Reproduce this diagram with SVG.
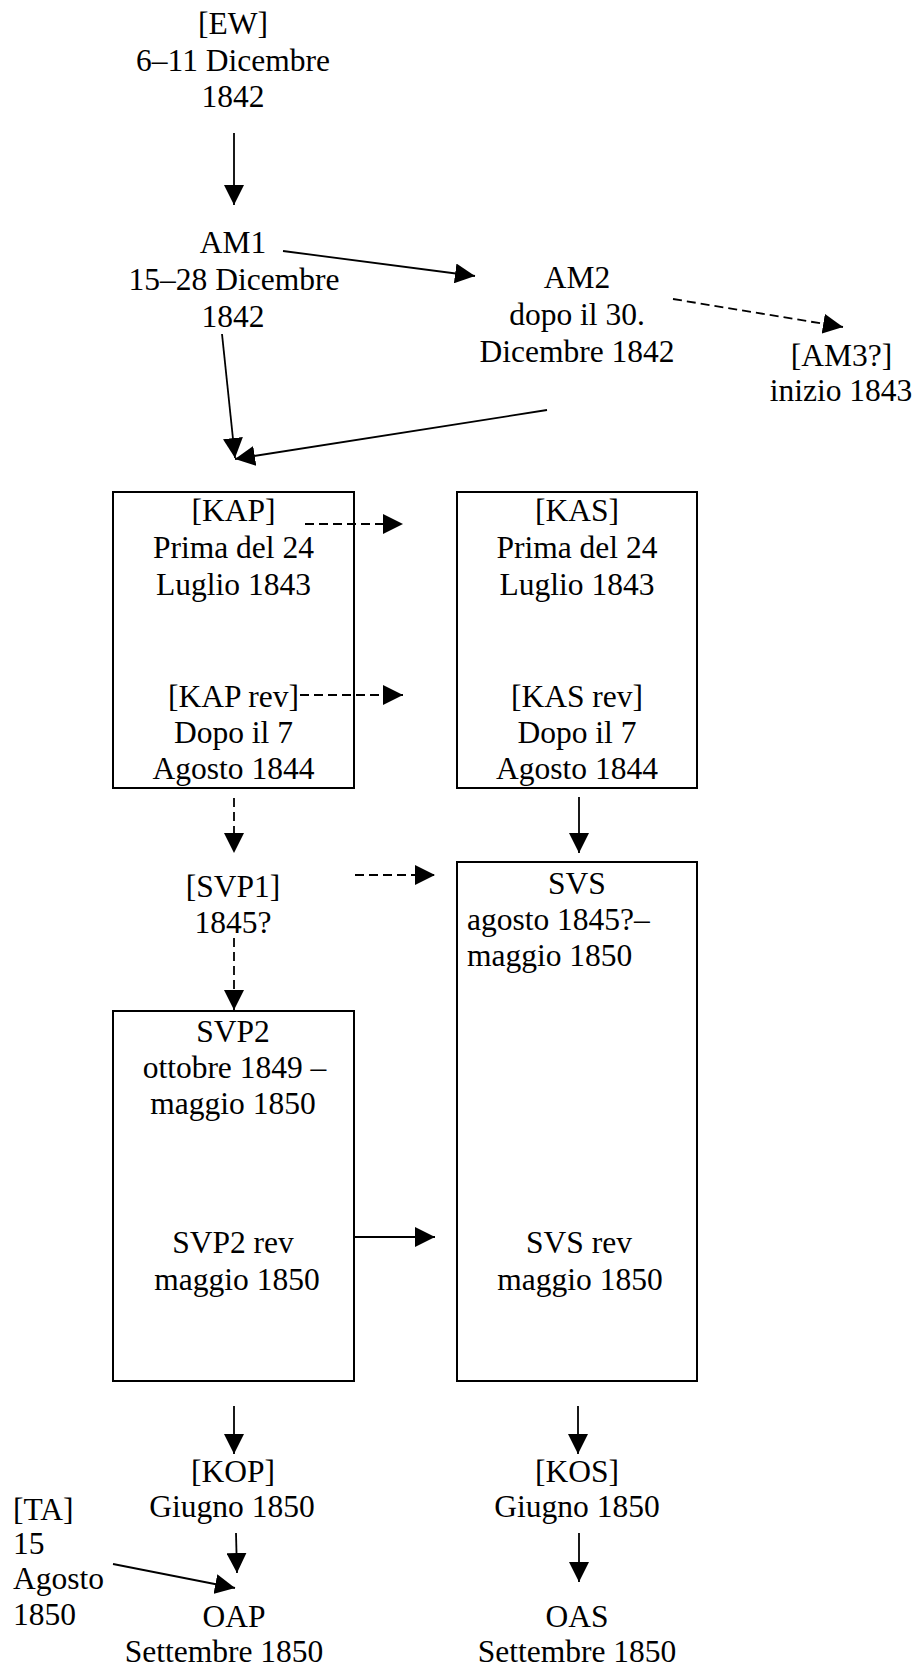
<svg xmlns="http://www.w3.org/2000/svg" width="923" height="1674" viewBox="0 0 923 1674" font-family="'Liberation Serif', Tinos, 'Times New Roman', Times, 'DejaVu Serif', serif" font-size="31.5">
<style>
.c{text-anchor:middle}
.box{fill:none;stroke:#000;stroke-width:2}
.ln{fill:none;stroke:#000;stroke-width:1.8}
.d{stroke-dasharray:9 5}
</style>
<defs>
<marker id="ah" markerUnits="userSpaceOnUse" markerWidth="20" markerHeight="20" refX="20" refY="10" orient="auto">
<path d="M0,0 L20,10 L0,20 Z" fill="#000"/>
</marker>
</defs>
<rect width="923" height="1674" fill="#fff"/>
<g id="EW" class="c"><text x="233" y="34">[EW]</text><text x="233" y="70.5">6–11 Dicembre</text><text x="233" y="107">1842</text></g>
<g id="AM1" class="c"><text x="233" y="253">AM1</text><text x="234" y="290">15–28 Dicembre</text><text x="233" y="327">1842</text></g>
<g id="AM2" class="c"><text x="577" y="288">AM2</text><text x="577" y="325">dopo il 30.</text><text x="577" y="362">Dicembre 1842</text></g>
<g id="AM3" class="c"><text x="841.5" y="366">[AM3?]</text><text x="841" y="401">inizio 1843</text></g>
<g id="KAP"><rect class="box" x="113" y="492" width="241" height="296"/>
<g class="c"><text x="233.5" y="521">[KAP]</text><text x="233.5" y="558">Prima del 24</text><text x="233.5" y="595">Luglio 1843</text><text x="233.5" y="707">[KAP rev]</text><text x="233.5" y="743">Dopo il 7</text><text x="233.5" y="779">Agosto 1844</text></g></g>
<g id="KAS"><rect class="box" x="457" y="492" width="240" height="296"/>
<g class="c"><text x="577" y="521">[KAS]</text><text x="577" y="558">Prima del 24</text><text x="577" y="595">Luglio 1843</text><text x="577" y="707">[KAS rev]</text><text x="577" y="743">Dopo il 7</text><text x="577" y="779">Agosto 1844</text></g></g>
<g id="SVP1" class="c"><text x="233" y="897">[SVP1]</text><text x="233" y="933">1845?</text></g>
<g id="SVS"><rect class="box" x="457" y="862" width="240" height="519"/>
<text class="c" x="577" y="894">SVS</text><text x="467" y="930">agosto 1845?–</text><text x="467" y="966">maggio 1850</text>
<text class="c" x="579" y="1253">SVS rev</text><text class="c" x="580" y="1290">maggio 1850</text></g>
<g id="SVP2"><rect class="box" x="113" y="1011" width="241" height="370"/>
<g class="c"><text x="233" y="1042">SVP2</text><text x="234.5" y="1078">ottobre 1849 –</text><text x="233" y="1114">maggio 1850</text><text x="233" y="1253">SVP2 rev</text><text x="237" y="1290">maggio 1850</text></g></g>
<g id="KOP" class="c"><text x="233" y="1482">[KOP]</text><text x="232" y="1517">Giugno 1850</text></g>
<g id="KOS" class="c"><text x="577" y="1482">[KOS]</text><text x="577" y="1517">Giugno 1850</text></g>
<g id="TA"><text x="13" y="1520">[TA]</text><text x="13" y="1554">15</text><text x="13" y="1589">Agosto</text><text x="13" y="1625">1850</text></g>
<g id="OAP" class="c"><text x="234" y="1627">OAP</text><text x="224" y="1662">Settembre 1850</text></g>
<g id="OAS" class="c"><text x="577" y="1627">OAS</text><text x="577" y="1662">Settembre 1850</text></g>
<g id="connectors">
<line class="ln" x1="234" y1="133" x2="234" y2="205" marker-end="url(#ah)"/>
<line class="ln" x1="283" y1="251" x2="475" y2="276" marker-end="url(#ah)"/>
<line class="ln" x1="222" y1="334" x2="235" y2="458" marker-end="url(#ah)"/>
<line class="ln" x1="547" y1="410" x2="235" y2="459" marker-end="url(#ah)"/>
<line class="ln d" x1="673" y1="299" x2="843" y2="327" marker-end="url(#ah)"/>
<line class="ln d" x1="305" y1="524" x2="403" y2="524" marker-end="url(#ah)"/>
<line class="ln d" x1="300" y1="695" x2="403" y2="695" marker-end="url(#ah)"/>
<line class="ln d" x1="234" y1="798" x2="234" y2="853" marker-end="url(#ah)"/>
<line class="ln" x1="579" y1="797" x2="579" y2="853" marker-end="url(#ah)"/>
<line class="ln d" x1="355" y1="875" x2="435" y2="875" marker-end="url(#ah)"/>
<line class="ln d" x1="234" y1="938" x2="234" y2="1010" marker-end="url(#ah)"/>
<line class="ln" x1="355" y1="1237" x2="435" y2="1237" marker-end="url(#ah)"/>
<line class="ln" x1="234" y1="1406" x2="234" y2="1454" marker-end="url(#ah)"/>
<line class="ln" x1="578" y1="1406" x2="578" y2="1454" marker-end="url(#ah)"/>
<line class="ln" x1="236" y1="1533" x2="237" y2="1573" marker-end="url(#ah)"/>
<line class="ln" x1="579" y1="1533" x2="579" y2="1582" marker-end="url(#ah)"/>
<line class="ln" x1="113" y1="1564" x2="235" y2="1588" marker-end="url(#ah)"/>
</g>
</svg>
